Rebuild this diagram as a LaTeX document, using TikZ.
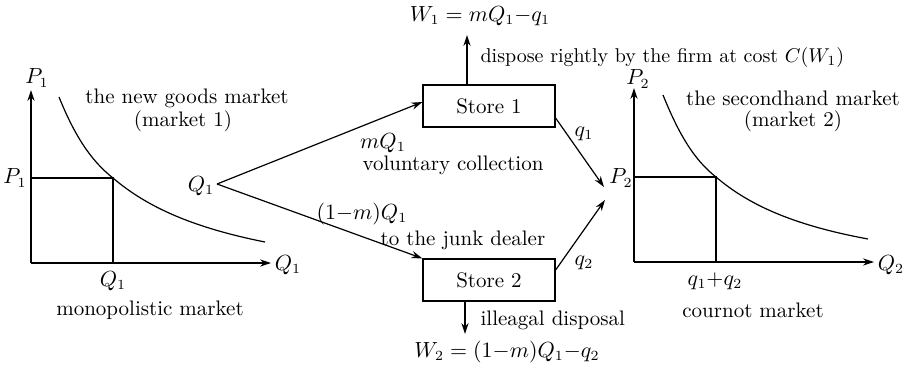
\documentclass[tikz,border=0pt]{standalone}
\usetikzlibrary{arrows.meta,calc}
\begin{document}
\begin{tikzpicture}[x=0.5pt,y=-0.5pt,
  line width=0.6pt,
  every node/.style={font=\fontsize{10.5}{12}\selectfont},
  arr/.style={-{Stealth[length=5.5pt,width=3.6pt]}},
  store/.style={draw,minimum width=66pt,minimum height=21pt,inner sep=0pt},
  lbl/.style={inner sep=1pt}]
\useasboundingbox (0,0) rectangle (904,366);
% ---------- left market ----------
\coordinate (o1) at (31,263);
\coordinate (y1) at (31,90);
\coordinate (x1) at (271,263);
\coordinate (e1) at (113,178);
\draw[arr] (o1) -- (y1);
\draw[arr] (o1) -- (x1);
\draw (o1 |- e1) -- (e1) -- (e1 |- o1);
\draw (59,97) .. controls (74,134) and (90,160) .. (e1)
      .. controls (148,208) and (195,228) .. (265,242);
\node[lbl] (p1top) at (37,78) {$P_1$};
\node[lbl] (p1) at (15,178) {$P_1$};
\node[lbl] (q1b) at (113,281) {$Q_1$};
\node[lbl] (q1r) at (288,265) {$Q_1$};
\node[lbl] (t1a) at (187,98) {the new goods market};
\node[lbl] (t1b) at (183,121) {(market 1)};
\node[lbl] (t1c) at (150,310) {monopolistic market};
% ---------- middle ----------
\node[lbl] (q1src) at (201,186) {$Q_1$};
\coordinate (apex) at (217,184);
\node[store] (s1) at (489,106) {Store 1};
\node[store] (s2) at (489,280) {Store 2};
\draw[arr] (apex) -- ($(s1.west)+(0,-4)$);
\draw[arr] (apex) -- (s2.north west);
\coordinate (u1) at (467,35);
\coordinate (d2) at (465,334);
\draw[arr] (s1.north -| u1) -- (u1);
\draw[arr] (s2.south -| d2) -- (d2);
\node[lbl] (w1) at (480,16) {$W_1=mQ_1{-}q_1$};
\node[lbl,anchor=west,font=\fontsize{10}{12}\selectfont] (disp) at (478,57) {dispose rightly by the firm at cost $C(W_1)$};
\node[lbl] (mq) at (383,143) {$mQ_1$};
\node[lbl] (vol) at (453,165) {voluntary collection};
\node[lbl] (omq) at (362,214) {$(1{-}m)Q_1$};
\node[lbl] (junk) at (463,240) {to the junk dealer};
\node[lbl,anchor=west] (ill) at (478,320) {illeagal disposal};
\node[lbl] (w2) at (507,352) {$W_2=(1{-}m)Q_1{-}q_2$};
\coordinate (t1) at (604,187);
\coordinate (t2) at (605,200);
\draw[arr] ($(s1.east)+(0,12)$) -- (t1);
\draw[arr] ($(s2.east)+(0,-10)$) -- (t2);
\node[lbl] (q1l) at (584,134) {$q_1$};
\node[lbl] (q2l) at (584,263) {$q_2$};
% ---------- right market ----------
\coordinate (o2) at (634,262);
\coordinate (y2) at (634,88);
\coordinate (x2) at (874,262);
\coordinate (e2) at (716,177);
\draw[arr] (o2) -- (y2);
\draw[arr] (o2) -- (x2);
\draw (o2 |- e2) -- (e2) -- (e2 |- o2);
\draw (663,95) .. controls (678,132) and (693,159) .. (e2)
      .. controls (751,207) and (798,226) .. (868,239);
\node[lbl] (p2top) at (638,79) {$P_2$};
\node[lbl] (p2) at (621,178) {$P_2$};
\node[lbl] (q12) at (715,281) {$q_1{+}q_2$};
\node[lbl] (q2r) at (891,265) {$Q_2$};
\node[lbl] (t2a) at (793,98) {the secondhand market};
\node[lbl] (t2b) at (793,121) {(market 2)};
\node[lbl] (t2c) at (753,310) {cournot market};
\end{tikzpicture}
\end{document}
